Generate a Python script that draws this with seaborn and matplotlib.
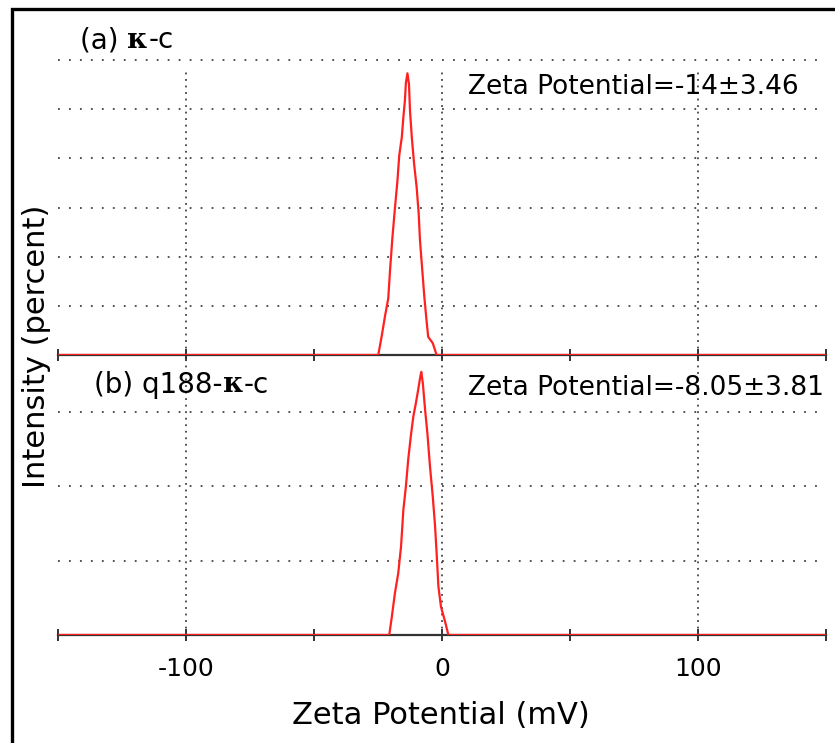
import numpy as np
import pandas as pd
import matplotlib
matplotlib.use("Agg")
import matplotlib.pyplot as plt
import seaborn as sns
from matplotlib.patches import Rectangle
from matplotlib.transforms import IdentityTransform

# ---- data ----
x_a = [-150, -24.9, -23.6, -22.3, -21.0, -20.3, -19.4, -18.4, -17.4, -16.7, -15.7, -15.1,
       -14.5, -14.1, -13.5, -12.9, -12.5, -11.8, -10.9, -9.9, -9.1, -8.6, -7.8, -6.9,
       -6.0, -5.4, -3.6, -2.1, 150]
y_a = [0, 0, 0.37, 0.78, 1.15, 1.72, 2.37, 2.98, 3.55, 4.06, 4.43, 4.83,
       5.17, 5.54, 5.73, 5.51, 4.97, 4.43, 3.89, 3.41, 2.87, 2.33, 1.79, 1.18,
       0.68, 0.37, 0.24, 0, 0]
x_b = [-150, -20.6, -19.7, -18.4, -17.1, -16.0, -15.1, -14.1, -13.2, -12.2, -11.2, -10.2,
       -9.3, -8.6, -8.1, -7.5, -6.6, -5.7, -4.7, -3.6, -2.7, -2.1, -1.4, -0.4, 1.2, 2.5, 150]
y_b = [0, 0, 0.22, 0.56, 0.83, 1.19, 1.68, 2.0, 2.36, 2.67, 2.94, 3.12,
       3.30, 3.45, 3.54, 3.39, 3.03, 2.71, 2.27, 1.86, 1.46, 1.10, 0.65, 0.38, 0.18, 0, 0]

x_ticks = [-150, -100, -50, 0, 50, 100, 150]
x_ticklabels = ["", "-100", "", "0", "", "100", ""]
x_grid = [-100, 0, 100]
y_grid_a = [1, 2, 3, 4, 5, 6]
y_grid_b = [1, 2, 3]
label_a = [("(a) ", "normal"), ("κ", "bold"), ("-c", "normal")]
label_b = [("(b) q188-", "normal"), ("κ", "bold"), ("-c", "normal")]
zeta_a = "Zeta Potential=-14±3.46"
zeta_b = "Zeta Potential=-8.05±3.81"
xlabel = "Zeta Potential (mV)"
ylabel = "Intensity (percent)"

sns.set_style("white")
plt.rcParams["font.family"] = ["DejaVu Sans"]
plt.rcParams["lines.scale_dashes"] = False
plt.rcParams["text.color"] = "black"
plt.rcParams["xtick.color"] = "#333333"
plt.rcParams["xtick.labelcolor"] = "black"

W, H = 835, 743
fig = plt.figure(figsize=(W / 100, H / 100), dpi=100)

def px_axes(left, top, right, bottom):
    return fig.add_axes([left / W, 1 - bottom / H, (right - left) / W, (bottom - top) / H])

ax_a = px_axes(58, 60, 826, 355)
ax_b = px_axes(58, 357, 826, 635)

grid_col = "#444444"
for ax, xs, ys, ymax, ygrid, vtop in [(ax_a, x_a, y_a, 6.0, y_grid_a, 0.97),
                                      (ax_b, x_b, y_b, 3.74, y_grid_b, 1.0)]:
    ax.set_xlim(-150, 150)
    ax.set_ylim(0, ymax)
    for yy in ygrid:
        ax.axhline(yy, color=grid_col, lw=1.3, dashes=(1.3, 6.6), zorder=1, clip_on=False)
    for xx in x_grid:
        ax.axvline(xx, ymax=vtop, color=grid_col, lw=1.3, dashes=(1.3, 3.4), zorder=1, clip_on=False)
    df = pd.DataFrame({"x": xs, "y": ys})
    sns.lineplot(data=df, x="x", y="y", ax=ax, color="#ff2020", lw=1.6, zorder=4,
                 estimator=None, sort=False)
    for s in ["left", "top", "right"]:
        ax.spines[s].set_visible(False)
    ax.spines["bottom"].set_color("#333333")
    ax.spines["bottom"].set_linewidth(1.6)
    ax.spines["bottom"].set_zorder(3)
    ax.set_yticks([])
    ax.set_xticks(x_ticks)
    ax.tick_params(axis="x", bottom=True, direction="inout", length=8, width=1.4,
                   color="#333333", labelcolor="black", labelsize=18, pad=12)
    ax.set_xlabel("")
    ax.set_ylabel("")
    ax.patch.set_alpha(0)

ax_a.set_xticklabels([""] * len(x_ticks))
ax_b.set_xticklabels(x_ticklabels)

fig.text(441 / W, 1 - 716 / H, xlabel, fontsize=22, ha="center", va="center", color="black")
fig.text(37 / W, 1 - 346 / H, ylabel, fontsize=22, ha="center", va="center", rotation=90,
         color="black")

fig.text(468 / W, 1 - 87 / H, zeta_a, fontsize=19, ha="left", va="center", color="black")
fig.text(468 / W, 1 - 388 / H, zeta_b, fontsize=19, ha="left", va="center", color="black")

renderer = fig.canvas.get_renderer()
def rich(x, y, parts, size):
    for s, w in parts:
        fam = ["DejaVu Serif"] if w == "bold" else ["DejaVu Sans"]
        t = fig.text(x, H - y, s, fontsize=size, fontweight=w, family=fam, color="black",
                     ha="left", va="center", transform=IdentityTransform())
        bb = t.get_window_extent(renderer)
        x = bb.x1

rich(80, 40, label_a, 20)
rich(94, 385, label_b, 20)

fig.patches.append(Rectangle((11.5 / W, -0.1), 1.2, 1 - 8.5 / H + 0.1, transform=fig.transFigure,
                             fill=False, ec="black", lw=2.4))

fig.savefig("out.png", dpi=100)
